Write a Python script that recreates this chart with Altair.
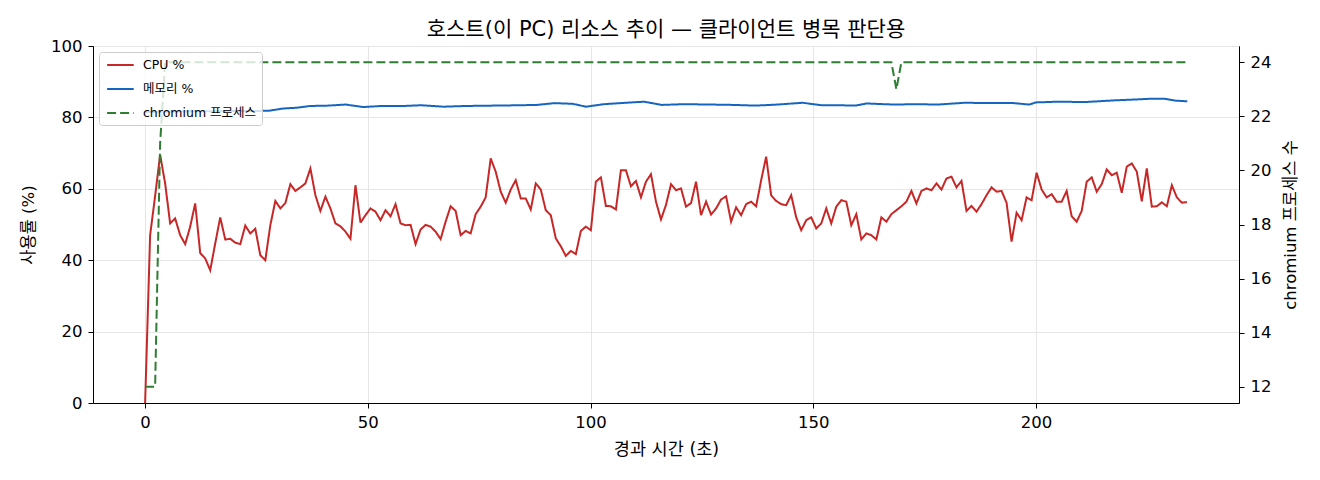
import altair as alt
import pandas as pd

STEP = 1.1245  # sampling interval (s)

cpu = [0, 47, 58, 69.5, 61.5, 50.3, 51.7, 47, 44.5, 49.4,
       55.9, 42, 40.5, 37.2, 44.7, 52, 45.8, 46, 44.9, 44.5,
       49.7, 47.5, 48.8, 41.4, 40, 49.8, 56.6, 54.5, 56, 61.3,
       59.4, 60.4, 61.5, 65.7, 58.2, 53.8, 57.8, 54.5, 50.3, 49.5,
       48, 46, 61, 50.5, 52.6, 54.5, 53.6, 51.2, 54, 52.3,
       55.7, 50.3, 49.8, 49.9, 44.5, 48.6, 49.9, 49.4, 48, 45.9,
       50.8, 55.1, 53.8, 47, 48.2, 47.5, 52.9, 55, 57.6, 68.5,
       64.8, 59.2, 56.1, 59.8, 62.4, 57.3, 57.3, 54.2, 61.5, 59.8,
       54, 52.6, 46.1, 43.9, 41.2, 42.6, 41.7, 48.2, 49.4, 48.4,
       62, 63.2, 55.2, 55.1, 54.2, 65.2, 65.2, 60.7, 62.2, 57.6,
       62, 64.1, 56.4, 51.4, 55.5, 61.3, 59.6, 60.1, 55, 56,
       62, 52.6, 56.4, 52.8, 54.5, 57, 57.9, 50.8, 54.8, 52.6,
       55.7, 56.4, 55.1, 62.4, 69, 58.2, 56.6, 55.7, 55.4, 58.2,
       52, 48.4, 51.2, 52, 48.9, 50.3, 54.5, 50.3, 55, 56.8,
       56.4, 49.8, 52.9, 45.8, 47.5, 47, 45.8, 52, 50.8, 52.9,
       54, 55.1, 56.4, 59.4, 55.9, 59.4, 60.1, 59.6, 61.5, 59.8,
       62.9, 63.4, 60.4, 62.2, 53.8, 55.2, 53.6, 55.7, 58.2, 60.4,
       59.2, 59.4, 56.1, 45.2, 53.3, 51.2, 57.6, 56.8, 64.5, 59.8,
       57.6, 58.5, 56.4, 56.4, 59.4, 52.3, 50.8, 53.8, 62, 63.2,
       59.2, 61.3, 65.4, 63.8, 64.5, 58.9, 66.2, 67.1, 64.8, 56.5,
       65.7, 55, 55.1, 56.2, 55.1, 61, 57.6, 56.1, 56.3]

procs = [12, 12, 12, 21] + [24] * 146 + [23] + [24] * 58

mem_t = [0, 5, 10, 15, 20, 25, 28, 31, 34, 37,
         41, 45, 49, 53, 58, 62, 67, 72, 78, 84,
         88, 92, 96, 99, 103, 108, 112, 116, 121, 127,
         132, 137, 142, 147.6, 152, 156, 159.5, 162, 168, 173,
         178, 184, 190, 195, 198.5, 200, 205, 211, 218, 222,
         225.4, 229, 231.3, 234]
mem = [81.5, 81.6, 81.7, 81.7, 81.8, 81.8, 81.9, 82.5, 82.7, 83.2,
       83.3, 83.6, 82.9, 83.2, 83.2, 83.4, 83.0, 83.2, 83.3, 83.4,
       83.5, 84.0, 83.8, 83.0, 83.7, 84.1, 84.4, 83.5, 83.7, 83.6,
       83.5, 83.3, 83.6, 84.1, 83.4, 83.4, 83.3, 83.9, 83.6, 83.7,
       83.6, 84.1, 84.0, 84.0, 83.6, 84.2, 84.4, 84.3, 84.8, 85.0,
       85.2, 85.2, 84.7, 84.5]

series_names = ["CPU %", "메모리 %", "chromium 프로세스"]
series_colors = ["#c62828", "#1565c0", "#2e7d32"]
series_dash = [[1, 0], [1, 0], [9, 4]]

x_ticks = [0, 50, 100, 150, 200]
left_ticks = [0, 20, 40, 60, 80, 100]
right_ticks = [12, 14, 16, 18, 20, 22, 24]

times = [round(i * STEP, 3) for i in range(len(cpu))]

df_left = pd.concat([
    pd.DataFrame({"t": times, "value": cpu, "series": series_names[0]}),
    pd.DataFrame({"t": mem_t, "value": mem, "series": series_names[1]}),
])
df_right = pd.DataFrame({"t": times, "value": procs, "series": series_names[2]})

FONT = "DejaVu Sans, Noto Sans CJK KR"

x_enc = alt.X("t:Q",
              scale=alt.Scale(domain=[-11.7, 245.6], nice=False, zero=False),
              axis=alt.Axis(title="경과 시간 (초)", values=x_ticks, grid=True,
                            titlePadding=10, titleFontSize=17.5))

legend = alt.Legend(title=None, orient="top-left", offset=6,
                    fillColor="rgba(255,255,255,0.8)", strokeColor="#cccccc",
                    cornerRadius=3, padding=5, symbolType="M-0.7,0H3.1",
                    symbolStrokeWidth=2, symbolSize=196, labelFontSize=12.5,
                    labelFont=FONT, rowPadding=9, labelOffset=23)

color_enc = alt.Color("series:N",
                      scale=alt.Scale(domain=series_names, range=series_colors),
                      legend=legend)
dash_enc = alt.StrokeDash("series:N",
                          scale=alt.Scale(domain=series_names, range=series_dash),
                          legend=legend)

left = alt.Chart(df_left).mark_line(strokeWidth=2).encode(
    x=x_enc,
    y=alt.Y("value:Q", scale=alt.Scale(domain=[0, 100], nice=False),
            axis=alt.Axis(title="사용률 (%)", values=left_ticks, grid=True,
                          titlePadding=14)),
    color=color_enc,
    strokeDash=dash_enc,
    order=alt.Order("t:Q"),
)

right = alt.Chart(df_right).mark_line(strokeWidth=2).encode(
    x=x_enc,
    y=alt.Y("value:Q", scale=alt.Scale(domain=[11.4, 24.6], nice=False, zero=False),
            axis=alt.Axis(title="chromium 프로세스 수", values=right_ticks,
                          orient="right", grid=False, titleAngle=270,
                          titleBaseline="top", titlePadding=12)),
    color=color_enc,
    strokeDash=dash_enc,
    order=alt.Order("t:Q"),
)

chart = alt.layer(left, right).resolve_scale(y="independent").properties(
    width=1146, height=357,
    title=alt.Title("호스트(이 PC) 리소스 추이 — 클라이언트 병목 판단용",
                    fontSize=21, font=FONT, fontWeight="normal",
                    anchor="middle", offset=-2, color="#000000"),
    autosize=alt.AutoSizeParams(type="none"),
    padding={"left": 85, "top": 38, "right": 73, "bottom": 69},
).configure_view(
    stroke="#000000", strokeWidth=1
).configure_axis(
    labelFont=FONT, titleFont=FONT, labelFontSize=16.5, titleFontSize=16.5,
    titleFontWeight="normal", labelColor="#000000", titleColor="#000000",
    domainColor="#000000", tickColor="#000000", tickSize=5, labelPadding=6,
    gridColor="#e6e6e6", gridWidth=1,
)

chart.save("out.html", embed_options={"renderer": "svg", "actions": False})
